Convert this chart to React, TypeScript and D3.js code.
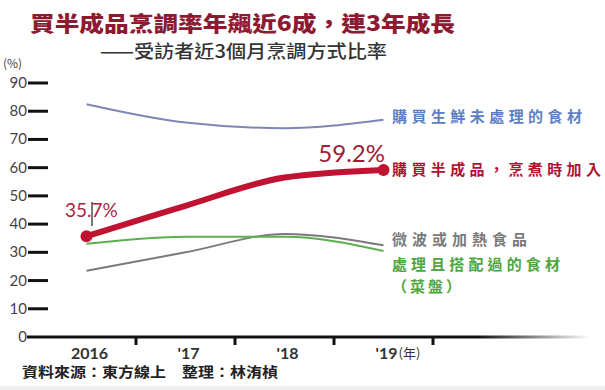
import { useEffect, useRef } from "react";
import * as d3 from "d3";

// survey years and tick labels
const years = ["2016", "2017", "2018", "2019"];
const yearLabels = ["2016", "'17", "'18", "'19"];
const yTicks = [0, 10, 20, 30, 40, 50, 60, 70, 80, 90];

// share of respondents (%) by cooking method
const freshRaw = [82.5, 76.0, 74.0, 77.0];
const semiFinished = [35.7, 46.5, 56.5, 59.2];
const microwave = [23.5, 30.0, 36.5, 32.5];
const preparedSet = [33.0, 35.5, 35.5, 30.5];

const seriesNames = [
  "購買生鮮未處理的食材",
  "購買半成品，烹煮時加入",
  "微波或加熱食品",
  "處理且搭配過的食材",
];

const W = 605;
const H = 390;
const CJK = "'Noto Sans CJK TC', 'Noto Sans', sans-serif";
const NUM = "'Lato', 'Noto Sans', sans-serif";

export default function App() {
  const svgRef = useRef<SVGSVGElement | null>(null);

  useEffect(() => {
    if (!svgRef.current) return;
    const svg = d3.select(svgRef.current);
    svg.selectAll("*").remove();

    const x = d3.scaleBand().domain(years).range([37, 433]).padding(0);
    const cx = (d: string) => x(d)! + x.bandwidth() / 2;
    const y = d3.scaleLinear().domain([0, 90]).range([337, 83]);

    svg.append("rect").attr("width", W).attr("height", H).attr("fill", "#fff");
    svg.append("rect").attr("y", 386).attr("width", W).attr("height", 4).attr("fill", "#eeeeee");

    // titles
    svg.append("text")
      .attr("x", 30).attr("y", 31)
      .attr("textLength", 425).attr("lengthAdjust", "spacingAndGlyphs")
      .attr("font-family", CJK).attr("font-weight", 900).attr("font-size", 21)
      .attr("fill", "#8e1a32")
      .text("買半成品烹調率年飆近6成，連3年成長");
    svg.append("text")
      .attr("x", 100).attr("y", 58)
      .attr("textLength", 287).attr("lengthAdjust", "spacingAndGlyphs")
      .attr("font-family", CJK).attr("font-weight", 500).attr("font-size", 18)
      .attr("fill", "#333")
      .text("——受訪者近3個月烹調方式比率");

    // y axis
    svg.append("text")
      .attr("x", 3).attr("y", 68)
      .attr("font-family", CJK).attr("font-size", 12).attr("fill", "#444")
      .text("(%)");
    const yg = svg.append("g");
    yg.selectAll("line.tk")
      .data(yTicks.filter((t) => t > 0))
      .enter()
      .append("line")
      .attr("x1", 28).attr("x2", 48)
      .attr("y1", (d) => y(d)).attr("y2", (d) => y(d))
      .attr("stroke", "#111").attr("stroke-width", 3);
    yg.selectAll("text")
      .data(yTicks)
      .enter()
      .append("text")
      .attr("x", 27).attr("y", (d) => y(d) + 5)
      .attr("text-anchor", "end")
      .attr("font-family", NUM).attr("font-size", 15).attr("fill", "#444")
      .text((d) => d);

    // x axis with fading end
    const grad = svg.append("defs").append("linearGradient")
      .attr("id", "fade").attr("gradientUnits", "userSpaceOnUse")
      .attr("x1", 27).attr("x2", 590);
    grad.append("stop").attr("offset", "0.8").attr("stop-color", "#111");
    grad.append("stop").attr("offset", "1").attr("stop-color", "#111").attr("stop-opacity", 0);
    svg.append("line")
      .attr("x1", 27).attr("x2", 590).attr("y1", y(0)).attr("y2", y(0))
      .attr("stroke", "url(#fade)").attr("stroke-width", 3);
    svg.selectAll("line.xt")
      .data(years)
      .enter()
      .append("line")
      .attr("x1", (d) => x(d)! + x.bandwidth()).attr("x2", (d) => x(d)! + x.bandwidth())
      .attr("y1", y(0)).attr("y2", y(0) + 8)
      .attr("stroke", "#111").attr("stroke-width", 3);
    svg.selectAll("text.xl")
      .data(years)
      .enter()
      .append("text")
      .attr("x", (d) => cx(d) + 3).attr("y", 359)
      .attr("text-anchor", "middle")
      .attr("font-family", NUM).attr("font-weight", 700).attr("font-size", 16)
      .attr("fill", "#333")
      .text((_, i) => yearLabels[i]);
    svg.append("text")
      .attr("x", cx("2019") + 15).attr("y", 358)
      .attr("font-family", CJK).attr("font-size", 13).attr("fill", "#333")
      .text("(年)");

    svg.append("text")
      .attr("x", 22).attr("y", 377)
      .attr("textLength", 256).attr("lengthAdjust", "spacingAndGlyphs")
      .attr("font-family", CJK).attr("font-weight", 700).attr("font-size", 14)
      .attr("fill", "#222")
      .text("資料來源：東方線上　整理：林洧楨");

    // lines
    const line = d3.line<number>()
      .x((_, i) => cx(years[i]))
      .y((d) => y(d))
      .curve(d3.curveMonotoneX);
    const thin = [
      { v: freshRaw, c: "#7d86b6" },
      { v: microwave, c: "#7a7a7a" },
      { v: preparedSet, c: "#5cb04e" },
    ];
    thin.forEach((s) => {
      svg.append("path").attr("d", line(s.v)).attr("fill", "none")
        .attr("stroke", s.c).attr("stroke-width", 2);
    });
    svg.append("path").attr("d", line(semiFinished)).attr("fill", "none")
      .attr("stroke", "#c01231").attr("stroke-width", 6).attr("stroke-linecap", "round");
    svg.selectAll("circle.dot")
      .data([0, 3])
      .enter()
      .append("circle")
      .attr("cx", (i) => cx(years[i])).attr("cy", (i) => y(semiFinished[i]))
      .attr("r", 6).attr("fill", "#c01231");

    // value annotations
    svg.append("text")
      .attr("x", 65).attr("y", 217)
      .attr("font-family", NUM).attr("font-size", 19).attr("fill", "#a8263c")
      .text(`${semiFinished[0]}%`);
    svg.append("line")
      .attr("x1", 92).attr("x2", 92).attr("y1", 202).attr("y2", 226)
      .attr("stroke", "#222").attr("stroke-width", 1.2);
    svg.append("text")
      .attr("x", 385).attr("y", 162).attr("text-anchor", "end")
      .attr("font-family", NUM).attr("font-size", 24).attr("fill", "#a01c36")
      .text(`${semiFinished[3]}%`);

    // series labels
    const labels = [
      { t: seriesNames[0], y: 122, w: 190, c: "#5d80c4" },
      { t: seriesNames[1], y: 175, w: 209, c: "#b0122e" },
      { t: seriesNames[2], y: 245, w: 135, c: "#7a7a7a" },
      { t: seriesNames[3], y: 270, w: 168, c: "#4ea63e" },
      { t: "（菜盤）", y: 292, w: 69, c: "#4ea63e" },
    ];
    labels.forEach((l) => {
      svg.append("text")
        .attr("x", 392).attr("y", l.y)
        .attr("textLength", l.w).attr("lengthAdjust", "spacing")
        .attr("font-family", CJK).attr("font-weight", 700).attr("font-size", 15)
        .attr("fill", l.c)
        .text(l.t);
    });
  }, []);

  return (
    <svg
      ref={svgRef}
      width={W}
      height={H}
      style={{ position: "fixed", left: 0, top: 0 }}
    />
  );
}
